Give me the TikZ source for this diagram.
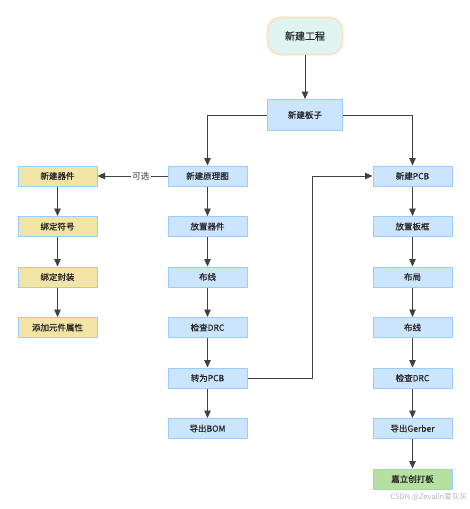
\documentclass[tikz,border=0pt]{standalone}
\usepackage{fontspec}
\setmainfont{Noto Sans CJK SC}
\newfontface\mfont{Noto Sans CJK SC}[FakeBold=0.5]
\usetikzlibrary{arrows.meta}
\definecolor{bfill}{HTML}{CCE5FF}
\definecolor{bdraw}{HTML}{99CCFF}
\definecolor{yfill}{HTML}{F2E4A4}
\definecolor{gfill}{HTML}{B5E0A0}
\definecolor{tfill}{HTML}{DFF4F1}
\definecolor{tdraw}{HTML}{FCDFC3}
\definecolor{lcol}{HTML}{404040}
\tikzset{
  box/.style={draw=bdraw, line width=1pt, fill=bfill, minimum width=79pt, minimum height=20pt, inner sep=0pt, font=\mfont\fontsize{8.5}{9}\selectfont, text=black!85},
  ybox/.style={box, fill=yfill},
  gbox/.style={box, fill=gfill},
  conn/.style={draw=lcol, line width=0.9pt, -{Triangle[length=7.5pt,width=6.5pt]}},
}
\begin{document}
\begin{tikzpicture}[x=1pt,y=-1pt]
\useasboundingbox (0,0) rectangle (470,509);
\node[draw=tdraw, line width=1.8pt, fill=tfill, rounded corners=13pt, minimum width=75pt, minimum height=37pt, inner sep=0pt, font=\mfont\fontsize{10}{11}\selectfont, text=black!85] (proj) at (305,36) {新建工程};
\node[box, minimum width=75pt, minimum height=31pt] (board) at (305,115) {新建板子};
% left column
\node[ybox] (l1) at (57.5,176) {新建器件};
\node[ybox] (l2) at (57.5,226.5) {绑定符号};
\node[ybox] (l3) at (57.5,277) {绑定封装};
\node[ybox] (l4) at (57.5,327.5) {添加元件属性};
% middle column
\node[box] (m1) at (207.5,176) {新建原理图};
\node[box] (m2) at (207.5,226.5) {放置器件};
\node[box] (m3) at (207.5,277) {布线};
\node[box] (m4) at (207.5,327.5) {检查DRC};
\node[box] (m5) at (207.5,378) {转为PCB};
\node[box] (m6) at (207.5,428.5) {导出BOM};
% right column
\node[box] (r1) at (412.5,176) {新建PCB};
\node[box] (r2) at (412.5,226.5) {放置板框};
\node[box] (r3) at (412.5,277) {布局};
\node[box] (r4) at (412.5,327.5) {布线};
\node[box] (r5) at (412.5,378) {检查DRC};
\node[box] (r6) at (412.5,428.5) {导出Gerber};
\node[gbox] (r7) at (412.5,479) {嘉立创打板};
% connectors
\draw[conn] (proj) -- (board);
\draw[conn] (board.west) -| (m1.north);
\draw[conn] (board.east) -| (r1.north);
\draw[conn] (m1.west) -- node[pos=0.38, fill=white, inner sep=1.5pt, font=\fontsize{8.5}{9}\selectfont, text=black!80] {可选} (l1.east);
\draw[conn] (l1) -- (l2);
\draw[conn] (l2) -- (l3);
\draw[conn] (l3) -- (l4);
\draw[conn] (m1) -- (m2);
\draw[conn] (m2) -- (m3);
\draw[conn] (m3) -- (m4);
\draw[conn] (m4) -- (m5);
\draw[conn] (m5) -- (m6);
\coordinate (j1) at (312,378);
\coordinate (j2) at (312,176);
\draw[conn] (m5.east) -- (j1) -- (j2) -- (r1.west);
\draw[conn] (r1) -- (r2);
\draw[conn] (r2) -- (r3);
\draw[conn] (r3) -- (r4);
\draw[conn] (r4) -- (r5);
\draw[conn] (r5) -- (r6);
\draw[conn] (r6) -- (r7);
\node[anchor=east, inner sep=0pt, font=\fontsize{7.5}{8}\selectfont, text=black!30] (wm) at (467,497) {CSDN @Zevalin爱灰灰};
\end{tikzpicture}
\end{document}
